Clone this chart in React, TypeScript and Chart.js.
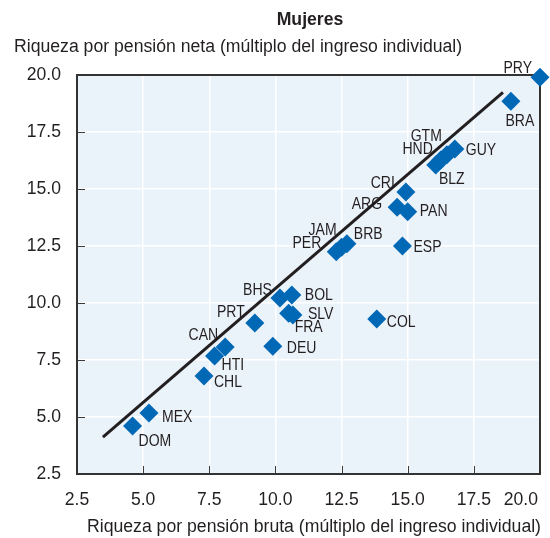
import React, { useEffect, useRef } from "react";
import { Chart, registerables } from "chart.js";

Chart.register(...registerables);

// ---------- data ----------
const countries = [
  "PRY", "BRA", "GTM", "HND", "GUY", "BLZ", "CRI", "ARG", "PAN", "ESP",
  "JAM", "PER", "BRB", "BHS", "BOL", "SLV", "FRA", "DEU", "COL", "PRT",
  "CAN", "HTI", "CHL", "MEX", "DOM",
];
const grossPensionWealth = [
  20.0, 18.9, 16.48, 16.25, 16.78, 16.06, 14.93, 14.6, 15.0, 14.8,
  12.5, 12.3, 12.7, 10.17, 10.62, 10.66, 10.5, 9.9, 13.83, 9.22,
  8.1, 7.7, 7.3, 5.22, 4.6,
];
const netPensionWealth = [
  19.9, 18.85, 16.5, 16.27, 16.75, 16.05, 14.87, 14.2, 14.0, 12.5,
  12.45, 12.25, 12.6, 10.22, 10.35, 9.47, 9.55, 8.1, 9.3, 9.12,
  8.07, 7.67, 6.8, 5.18, 4.6,
];
const fitLineX = [3.48, 18.6];
const fitLineY = [4.12, 19.24];
const axisTicks = [2.5, 5.0, 7.5, 10.0, 12.5, 15.0, 17.5, 20.0];

const titleText = "Mujeres";
const yTitleText = "Riqueza por pensión neta (múltiplo del ingreso individual)";
const xTitleText = "Riqueza por pensión bruta (múltiplo del ingreso individual)";

// ---------- styles ----------
const FONT = '"Liberation Sans", Arial, sans-serif';
const TEXT = "#231F20";
const BLUE = "#0068B5";
const BG = "#EAF2FA";

// label offsets (dx, dy from point centre, alignment)
const labelPlacement: Record<string, [number, number, CanvasTextAlign]> = {
  PRY: [-8, -9, "right"],
  BRA: [9, 20, "center"],
  GTM: [-5, -18, "right"],
  HND: [-8, -11, "right"],
  GUY: [11, 1, "left"],
  BLZ: [16, 14, "center"],
  CRI: [-11, -9, "right"],
  ARG: [-15, -3, "right"],
  PAN: [12, 0, "left"],
  ESP: [11, 1, "left"],
  JAM: [-5, -17, "right"],
  PER: [-15, -8, "right"],
  BRB: [7, -9, "left"],
  BHS: [-8, -8, "right"],
  BOL: [13, 0, "left"],
  SLV: [15, -1, "left"],
  FRA: [6, 14, "left"],
  DEU: [14, 2, "left"],
  COL: [10, 3, "left"],
  PRT: [-10, -11, "right"],
  CAN: [-7, -12, "right"],
  HTI: [7, 9, "left"],
  CHL: [10, 6, "left"],
  MEX: [13, 5, "left"],
  DOM: [6, 15, "left"],
};

function drawText(
  ctx: CanvasRenderingContext2D,
  text: string,
  x: number,
  y: number,
  align: CanvasTextAlign,
  size: number,
  squeeze: number,
  bold = false
) {
  ctx.save();
  ctx.translate(x, y);
  ctx.scale(squeeze, 1);
  ctx.font = `${bold ? "bold " : ""}${size}px ${FONT}`;
  ctx.textAlign = align;
  ctx.textBaseline = "middle";
  ctx.fillStyle = TEXT;
  ctx.fillText(text, 0, 0);
  ctx.restore();
}

const decorPlugin = {
  id: "decor",
  beforeDraw(chart: any) {
    const { ctx, chartArea: a } = chart;
    ctx.save();
    ctx.fillStyle = BG;
    ctx.fillRect(a.left, a.top, a.right - a.left, a.bottom - a.top);
    ctx.restore();
  },
  beforeDatasetsDraw(chart: any) {
    const { ctx, chartArea: a, scales } = chart;
    ctx.save();
    ctx.strokeStyle = "#3a3a3a";
    ctx.lineWidth = 1;
    axisTicks.forEach((v) => {
      const x = Math.round(scales.x.getPixelForValue(v)) + 0.5;
      ctx.beginPath();
      ctx.moveTo(x, a.bottom);
      ctx.lineTo(x, a.bottom - 8);
      ctx.stroke();
      const y = Math.round(scales.y.getPixelForValue(v)) + 0.5;
      ctx.beginPath();
      ctx.moveTo(a.left, y);
      ctx.lineTo(a.left + 8, y);
      ctx.stroke();
    });
    ctx.strokeStyle = "#333333";
    ctx.lineWidth = 2;
    ctx.strokeRect(a.left, a.top, a.right - a.left, a.bottom - a.top);
    ctx.restore();
  },
  afterDraw(chart: any) {
    const { ctx, chartArea: a, scales } = chart;
    // country labels
    countries.forEach((c, i) => {
      const px = scales.x.getPixelForValue(grossPensionWealth[i]);
      const py = scales.y.getPixelForValue(netPensionWealth[i]);
      const [dx, dy, al] = labelPlacement[c];
      drawText(ctx, c, px + dx, py + dy, al, 16.5, 0.85);
    });
    // tick labels
    axisTicks.forEach((v, i) => {
      const x = scales.x.getPixelForValue(v);
      const last = i === axisTicks.length - 1;
      drawText(ctx, v.toFixed(1), last ? x - 2 : x, a.bottom + 26, last ? "right" : "center", 18.5, 0.95);
      const y = scales.y.getPixelForValue(v);
      drawText(ctx, v.toFixed(1), a.left - 16, y, "right", 18.5, 0.95);
    });
    // titles
    drawText(ctx, titleText, 310, 20, "center", 18, 0.98, true);
    drawText(ctx, yTitleText, 14, 47, "left", 18, 0.98);
    drawText(ctx, xTitleText, 314, 527, "center", 18, 0.98);
  },
};

export default function App() {
  const ref = useRef<HTMLCanvasElement | null>(null);

  useEffect(() => {
    document.body.style.margin = "0";
    if (!ref.current) return;
    const chart = new Chart(ref.current, {
      type: "scatter",
      data: {
        datasets: [
          {
            label: "fit",
            data: fitLineX.map((x, i) => ({ x, y: fitLineY[i] })),
            showLine: true,
            borderColor: TEXT,
            borderWidth: 3,
            pointRadius: 0,
            clip: false as any,
          },
          {
            label: "Mujeres",
            data: countries.map((_, i) => ({ x: grossPensionWealth[i], y: netPensionWealth[i] })),
            pointStyle: "rectRot",
            pointRadius: 9.5,
            pointBackgroundColor: BLUE,
            pointBorderWidth: 0,
            borderWidth: 0,
            clip: false as any,
          },
        ],
      },
      options: {
        responsive: false,
        animation: false,
        devicePixelRatio: 1,
        events: [],
        layout: { padding: { top: 75, right: 10, left: 0, bottom: 0 } },
        plugins: { legend: { display: false }, tooltip: { enabled: false }, title: { display: false } },
        scales: {
          x: {
            type: "linear",
            min: 2.5,
            max: 20,
            afterBuildTicks: (s: any) => { s.ticks = axisTicks.map((v) => ({ value: v })); },
            ticks: { display: false },
            grid: { color: "#FFFFFF", lineWidth: 1.5, drawTicks: false },
            border: { display: false },
            afterFit: (s: any) => { s.height = 64; s.paddingLeft = 0; s.paddingRight = 0; },
          },
          y: {
            type: "linear",
            min: 2.5,
            max: 20,
            afterBuildTicks: (s: any) => { s.ticks = axisTicks.map((v) => ({ value: v })); },
            ticks: { display: false },
            grid: { color: "#FFFFFF", lineWidth: 1.5, drawTicks: false },
            border: { display: false },
            afterFit: (s: any) => { s.width = 77; s.paddingTop = 0; s.paddingBottom = 0; },
          },
        },
      },
      plugins: [decorPlugin],
    });
    return () => chart.destroy();
  }, []);

  return (
    <div style={{ width: 550, height: 538 }}>
      <canvas ref={ref} width={550} height={538} style={{ display: "block" }} />
    </div>
  );
}
